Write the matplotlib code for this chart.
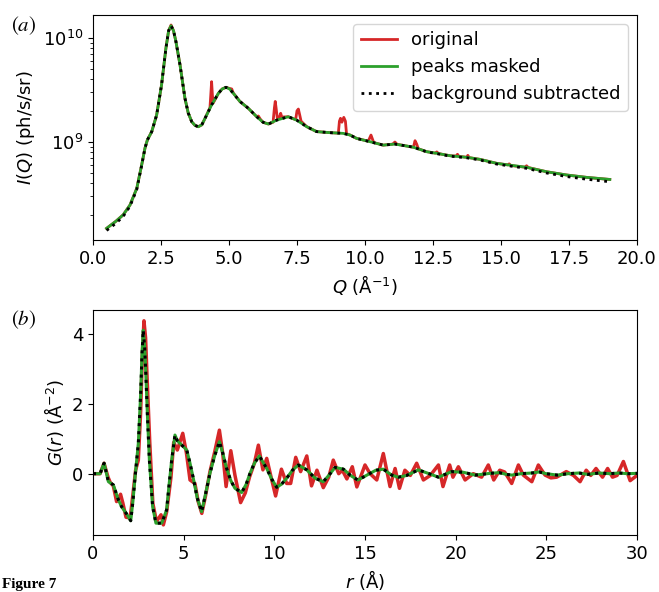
import numpy as np
import matplotlib
matplotlib.use("Agg")
import matplotlib.pyplot as plt

# ---------------- panel (a): I(Q) ----------------
q_masked = [0.50, 0.625, 0.85, 1.11, 1.36, 1.61, 1.79, 1.91, 2.00, 2.16, 2.34, 2.52, 2.68,
            2.78, 2.87, 2.96, 3.05, 3.20, 3.38, 3.50, 3.63, 3.75, 3.87, 4.00, 4.12, 4.36,
            4.61, 4.75, 4.89, 5.02, 5.16, 5.40, 5.71, 6.02, 6.25, 6.45, 6.75, 7.18, 7.49,
            7.86, 8.22, 8.71, 9.20, 9.45, 9.69, 10.18, 10.67, 11.10, 11.45, 11.78, 12.27,
            12.64, 13.13, 13.74, 14.23, 14.84, 15.40, 15.94, 16.68, 17.41, 18.15, 19.00]
logi_masked = [8.17, 8.195, 8.24, 8.30, 8.394, 8.555, 8.78, 8.94, 9.02, 9.10, 9.26, 9.548, 9.90,
               10.07, 10.118, 10.07, 9.964, 9.74, 9.42, 9.28, 9.195, 9.16, 9.147, 9.165, 9.228, 9.356,
               9.468, 9.51, 9.526, 9.51, 9.468, 9.39, 9.324, 9.243, 9.19, 9.173, 9.21, 9.243, 9.21,
               9.147, 9.10, 9.09, 9.083, 9.067, 9.035, 9.003, 8.97, 8.98, 8.965, 8.95, 8.907,
               8.891, 8.868, 8.853, 8.833, 8.795, 8.775, 8.757, 8.714, 8.683, 8.66, 8.64]
# background-subtracted curve: log10 offset from the masked curve
bg_offset = [-0.02, -0.02, -0.02, -0.015, -0.012, -0.01, -0.005, 0.0, 0.0, 0.0, 0.0, 0.0, 0.0,
             0.0, 0.0, 0.0, 0.0, 0.0, 0.0, 0.0, 0.0, 0.0, 0.0, 0.0, 0.0, 0.0,
             0.0, 0.0, 0.0, 0.0, 0.0, 0.0, 0.0, 0.0, 0.0, 0.0, 0.0, 0.0, 0.0,
             0.0, 0.0, 0.0, 0.0, 0.0, 0.0, 0.0, 0.0, 0.0, 0.0, 0.0, -0.002,
             -0.003, -0.004, -0.005, -0.006, -0.007, -0.008, -0.01, -0.012, -0.015, -0.018, -0.022]

q_orig = [0.50, 0.625, 0.85, 1.11, 1.36, 1.61, 1.79, 1.91, 2.00, 2.16, 2.34, 2.52, 2.68,
          2.78, 2.87, 2.96, 3.05, 3.20, 3.38, 3.50, 3.63, 3.75, 3.87, 4.00, 4.12, 4.30,
          4.33, 4.36, 4.39, 4.42, 4.61, 4.75, 4.89, 5.02, 5.10, 5.16, 5.40, 5.71, 6.02,
          6.08, 6.15, 6.25, 6.45, 6.62, 6.67, 6.70, 6.73, 6.78, 6.87, 6.90, 6.94, 7.18,
          7.45, 7.50, 7.55, 7.60, 7.65, 7.86, 8.22, 8.71, 9.02, 9.06, 9.10, 9.15, 9.22,
          9.28, 9.32, 9.45, 9.69, 10.12, 10.22, 10.32, 10.67, 11.02, 11.10, 11.18, 11.45,
          11.78, 11.84, 11.90, 11.96, 12.27, 12.58, 12.64, 12.70, 13.13, 13.35, 13.40,
          13.45, 13.74, 13.78, 13.83, 14.23, 14.84, 15.25, 15.30, 15.36, 15.88, 15.94,
          16.00, 16.68, 17.41, 18.15, 19.00]
logi_orig = [8.17, 8.195, 8.24, 8.30, 8.394, 8.555, 8.78, 8.94, 9.02, 9.10, 9.26, 9.548, 9.90,
             10.07, 10.125, 10.07, 9.964, 9.74, 9.42, 9.28, 9.195, 9.16, 9.147, 9.165, 9.228, 9.33,
             9.45, 9.58, 9.45, 9.375, 9.468, 9.51, 9.526, 9.515, 9.51, 9.47, 9.39, 9.324, 9.243,
             9.25, 9.22, 9.19, 9.173, 9.19, 9.33, 9.39, 9.33, 9.22, 9.25, 9.276, 9.24, 9.243,
             9.215, 9.30, 9.317, 9.26, 9.20, 9.147, 9.10, 9.09, 9.085, 9.20, 9.228, 9.19, 9.237,
             9.20, 9.08, 9.067, 9.035, 9.008, 9.067, 8.995, 8.97, 8.98, 9.0, 8.978, 8.965,
             8.95, 9.013, 8.98, 8.935, 8.907, 8.893, 8.905, 8.889, 8.868, 8.865, 8.882,
             8.862, 8.853, 8.872, 8.85, 8.833, 8.795, 8.78, 8.79, 8.774, 8.758, 8.772,
             8.755, 8.714, 8.683, 8.66, 8.64]

# ---------------- panel (b): G(r) ----------------
r_masked = [0, 0.39, 0.61, 0.85, 1.12, 1.40, 1.58, 1.86, 2.08, 2.20, 2.32, 2.50, 2.63, 2.70,
            2.77, 2.85, 2.92, 3.00, 3.11, 3.29, 3.47, 3.79, 4.06, 4.20, 4.34, 4.52, 4.65,
            4.80, 5.17, 5.35, 5.53, 5.75, 5.99, 6.20, 6.45, 6.70, 6.97, 7.15, 7.37, 7.60,
            7.83, 8.20, 8.45, 8.66, 8.90, 9.17, 9.58, 9.85, 10.13, 10.40, 10.68, 11.00,
            11.32, 11.79, 12.25, 12.70, 13.00, 13.35, 13.81, 14.20, 14.60, 14.90, 15.28,
            15.60, 16.01, 16.47, 16.84, 17.30, 17.94, 18.59, 19.05, 19.78, 20.43, 21.07,
            21.90, 22.40, 22.80, 23.10, 23.60, 24.20, 24.60, 25.00, 25.60, 26.20, 26.80,
            27.30, 27.90, 28.50, 29.00, 29.50, 30.00]
g_masked = [0, 0, 0.30, -0.23, -0.32, -0.75, -0.95, -1.16, -1.35, -0.80, -0.09, 0.87, 2.31, 3.40,
            4.12, 3.60, 2.78, 1.70, 0.39, -0.95, -1.42, -1.42, -1.04, -0.30, 0.39, 1.11, 0.95,
            0.87, 0.68, 0.30, -0.13, -0.70, -1.09, -0.60, 0.01, 0.50, 0.92, 0.60, 0.15, -0.20,
            -0.42, -0.54, -0.30, 0.01, 0.30, 0.51, 0.15, -0.15, -0.39, -0.30, -0.13, 0.10,
            0.25, 0.11, -0.13, -0.23, -0.05, 0.18, 0.13, -0.05, -0.18, -0.10, 0.01,
            0.10, 0.13, -0.04, -0.10, -0.05, 0.11, -0.01, -0.10, 0.06, 0.04, -0.04,
            0.01, 0.03, -0.02, -0.04, 0.0, 0.02, 0.05, 0.0, -0.04, 0.0, 0.02,
            -0.02, 0.02, 0.0, 0.02, 0.0, 0.01]

r_orig = [0, 0.39, 0.61, 0.83, 0.95, 1.12, 1.30, 1.52, 1.65, 1.82, 2.05, 2.20, 2.35, 2.50,
          2.63, 2.72, 2.81, 2.90, 2.98, 3.13, 3.30, 3.50, 3.75, 3.88, 4.06, 4.30, 4.45,
          4.65, 4.95, 5.15, 5.35, 5.62, 5.80, 6.00, 6.20, 6.45, 6.70, 6.97, 7.15, 7.34,
          7.60, 7.83, 8.14, 8.40, 8.63, 8.90, 9.12, 9.37, 9.58, 9.80, 10.07, 10.39, 10.68,
          10.90, 11.18, 11.45, 11.79, 12.05, 12.35, 12.70, 13.00, 13.25, 13.55, 13.75,
          14.00, 14.30, 14.55, 15.00, 15.28, 15.65, 16.01, 16.38, 16.66, 16.90, 17.20,
          17.50, 17.85, 18.22, 18.60, 19.05, 19.30, 19.67, 19.85, 20.15, 20.52, 20.97,
          21.43, 21.80, 22.10, 22.43, 22.70, 23.09, 23.46, 23.73, 24.20, 24.56, 24.93,
          25.25, 25.57, 26.10, 26.50, 26.86, 27.20, 27.45, 27.74, 28.10, 28.38, 28.65,
          28.90, 29.25, 29.62, 30.00]
g_orig = [0, 0, 0.30, -0.10, -0.25, -0.35, -0.80, -0.59, -0.85, -1.25, -1.27, -0.60, 0.10, 0.39,
          1.80, 3.40, 4.39, 3.90, 2.80, 0.90, -0.85, -1.37, -1.18, -1.47, -1.10, -0.10, 0.90,
          0.68, 1.16, 0.60, -0.18, -0.28, -0.80, -1.14, -0.65, 0.06, 0.60, 1.25, 0.60, -0.37,
          0.66, -0.05, -0.83, -0.55, -0.10, 0.30, 0.82, 0.11, 0.44, -0.05, -0.64, 0.13, -0.28,
          -0.28, 0.47, 0.06, 0.51, -0.35, 0.10, -0.40, -0.10, 0.39, 0.00, 0.10,
          -0.15, 0.20, -0.38, 0.25, 0.00, -0.18, 0.58, -0.37, 0.15, -0.42, 0.10,
          -0.05, 0.30, -0.18, -0.05, 0.25, -0.37, 0.25, -0.10, 0.20, -0.18, 0.00,
          -0.10, 0.25, -0.18, 0.10, 0.05, -0.28, 0.25, -0.04, -0.23, 0.25, -0.04,
          -0.12, -0.10, 0.06, -0.05, -0.23, 0.10, -0.05, 0.15, -0.10, 0.15, -0.10,
          -0.05, 0.35, -0.20, -0.05]

labels = ["original", "peaks masked", "background subtracted"]
RED, GREEN = "#d62728", "#2ca02c"
FS = 13

fig = plt.figure(figsize=(6.59, 5.92), dpi=100)
W, H = 659, 592
ax1 = fig.add_axes([93 / W, 1 - 240 / H, (637 - 93) / W, (240 - 15) / H])
ax2 = fig.add_axes([93 / W, 1 - 535 / H, (637 - 93) / W, (535 - 310) / H])

i_orig = 10 ** np.array(logi_orig)
i_masked = 10 ** np.array(logi_masked)
i_bg = 10 ** (np.array(logi_masked) + np.array(bg_offset))

ax1.plot(q_orig, i_orig, color=RED, lw=2, label=labels[0])
ax1.plot(q_masked, i_masked, color=GREEN, lw=2, label=labels[1])
ax1.plot(q_masked, i_bg, color="black", lw=2, ls=":", label=labels[2])
ax1.set_yscale("log")
ax1.set_xlim(0, 20)
ax1.set_ylim(10 ** 8.058, 10 ** 10.221)
ax1.set_xlabel(r"$Q$ (Å$^{-1}$)", fontsize=FS)
ax1.set_ylabel(r"$I(Q)$ (ph/s/sr)", fontsize=FS)
ax1.tick_params(labelsize=FS)
ax1.legend(loc="upper right", fontsize=FS)

ax2.plot(r_orig, g_orig, color=RED, lw=2.5)
ax2.plot(r_masked, g_masked, color=GREEN, lw=2.2)
ax2.plot(r_masked, g_masked, color="black", lw=2.2, ls=":")
ax2.set_xlim(0, 30)
ax2.set_ylim(-1.76, 4.70)
ax2.set_yticks([0, 2, 4])
ax2.set_xlabel(r"$r$ (Å)", fontsize=FS)
ax2.set_ylabel(r"$G(r)$ (Å$^{-2}$)", fontsize=FS)
ax2.tick_params(labelsize=FS)

fig.text(24 / W, 1 - 26 / H, r"$(a)$", fontsize=15, math_fontfamily="stix",
         ha="center", va="center")
fig.text(24 / W, 1 - 320 / H, r"$(b)$", fontsize=15, math_fontfamily="stix",
         ha="center", va="center")
fig.text(2 / W, 1 / H, "Figure 7", fontsize=11, fontweight="bold",
         family="Liberation Serif", ha="left", va="bottom")

fig.savefig("out.png", dpi=100)
